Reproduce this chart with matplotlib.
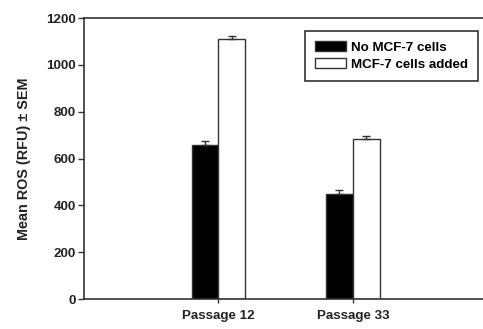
import numpy as np
import matplotlib.pyplot as plt

plt.rcParams['font.family'] = ['Liberation Sans', 'DejaVu Sans']

groups = ['Passage 12', 'Passage 33']
no_mcf7 = [660, 448]
no_mcf7_err = [17, 17]
mcf7_added = [1109, 683]
mcf7_added_err = [16, 14]

x = np.arange(len(groups))
w = 0.2
ec = '#333333'

fig = plt.figure(figsize=(4.83, 3.29), dpi=100)
ax = fig.add_axes([0.174, 0.091, 0.835, 0.854])

ax.bar(x - w/2, no_mcf7, w, color='black', edgecolor=ec, linewidth=1,
       yerr=[np.zeros(2), no_mcf7_err], ecolor=ec,
       error_kw=dict(capsize=3, elinewidth=1, capthick=1),
       label='No MCF-7 cells')
ax.bar(x + w/2, mcf7_added, w, color='white', edgecolor=ec, linewidth=1,
       yerr=[np.zeros(2), mcf7_added_err], ecolor=ec,
       error_kw=dict(capsize=3, elinewidth=1, capthick=1),
       label='MCF-7 cells added')

ax.set_xlim(-1.0, 2.0)
ax.set_ylim(0, 1200)
ax.set_yticks(range(0, 1201, 200))
ax.set_xticks(x)
ax.set_xticklabels(groups, fontweight='bold', fontsize=9.6, color='#222222')
for lab in ax.get_yticklabels():
    lab.set_fontweight('bold')
    lab.set_fontsize(9.6)
    lab.set_color('#222222')
ax.tick_params(axis='y', direction='out', length=4, width=1, color=ec, pad=2)
ax.tick_params(axis='x', direction='out', length=3, width=1, color=ec, pad=5)
ax.spines['right'].set_visible(False)
for s in ['left', 'top', 'bottom']:
    ax.spines[s].set_color(ec)
    ax.spines[s].set_linewidth(1.2)

ax.set_ylabel('Mean ROS (RFU) ± SEM', fontweight='bold', fontsize=10.4,
              color='#222222', labelpad=11)

leg = ax.legend(loc='upper right', bbox_to_anchor=(0.977, 0.954), fancybox=False,
                framealpha=1, edgecolor=ec, handlelength=2.3, handleheight=0.75,
                prop=dict(weight='bold', size=9.6), borderpad=0.75,
                labelspacing=0.35, handletextpad=0.4, borderaxespad=0)
leg.get_frame().set_linewidth(1.2)

fig.savefig('out.png', dpi=100)
